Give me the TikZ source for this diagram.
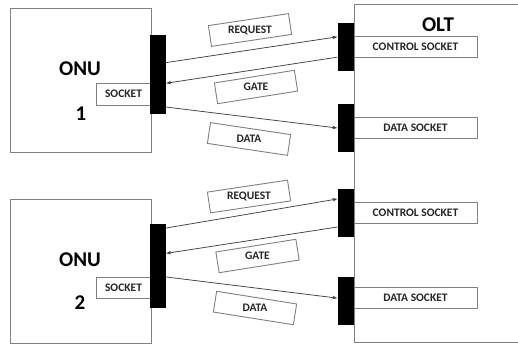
\documentclass[tikz,border=0pt]{standalone}
\usepackage{fontspec}
\setmainfont{Carlito}
\usetikzlibrary{arrows.meta,calc}

\tikzset{
  unit/.style={draw=black!50, line width=0.9pt, fill=white, inner sep=0pt},
  portbar/.style={fill=black, minimum width=16pt, inner sep=0pt},
  sockbox/.style={draw=black!50, line width=0.9pt, fill=white, inner sep=0pt, minimum height=21pt, font=\bfseries\fontsize{11.5}{13}\selectfont, text=black!85},
  msgbox/.style={draw=black!50, line width=0.9pt, fill=white, minimum width=81pt, minimum height=21pt, inner sep=0pt},
  msgtxt/.style={inner sep=0pt, font=\bfseries\fontsize{11.5}{13}\selectfont, text=black!85},
  msg/.style={draw=black!75, line width=0.75pt, -{Stealth[length=5pt,width=3.5pt]}},
  bigtxt/.style={font=\bfseries\fontsize{21}{24}\selectfont, inner sep=0pt}
}

\begin{document}
\begin{tikzpicture}[x=1pt,y=1pt,yscale=-1]
\useasboundingbox (0,0) rectangle (518,345);
\clip (0,0) rectangle (518,345);

% OLT side
\node[unit, minimum width=200pt, minimum height=338pt, anchor=north west] (olt) at (353.5,4) {};
\node[bigtxt] (oltname) at (438,25) {OLT};
\node[sockbox, minimum width=123pt] (ctrlA) at (415.5,46.5) {CONTROL SOCKET};
\node[sockbox, minimum width=123pt] (dataA) at (415.5,127.5) {DATA SOCKET};
\node[sockbox, minimum width=123pt] (ctrlB) at (415.5,212.5) {CONTROL SOCKET};
\node[sockbox, minimum width=123pt] (dataB) at (415.5,298) {DATA SOCKET};
\node[portbar, minimum height=48pt] (ctrlbarA) at (345.5,47) {};
\node[portbar, minimum height=48pt] (databarA) at (345.5,128) {};
\node[portbar, minimum height=48pt] (ctrlbarB) at (345.5,213) {};
\node[portbar, minimum height=48pt] (databarB) at (345.5,301) {};

% ONU 1
\node[unit, minimum width=141pt, minimum height=144pt] (onuA) at (80.5,80) {};
\node[bigtxt] (onuAname) at (80,69) {ONU};
\node[bigtxt] (onuAnum) at (81,114) {1};
\node[sockbox, minimum width=55pt, minimum height=22pt] (sockA) at (123.5,94) {SOCKET};
\node[portbar, minimum height=79pt] (onubarA) at (158,74.5) {};

% ONU 2
\node[unit, minimum width=141pt, minimum height=144pt] (onuB) at (80.5,271) {};
\node[bigtxt] (onuBname) at (80,259.5) {ONU};
\node[bigtxt] (onuBnum) at (80,302.5) {2};
\node[sockbox, minimum width=55pt] (sockB) at (123.5,287.5) {SOCKET};
\node[portbar, minimum height=84pt] (onubarB) at (158,266) {};

% messages ONU 1 <-> OLT (tilted frames, level text)
\draw[msg] ($(onubarA.north east)!.35!(onubarA.south east)$) -- ($(ctrlbarA.north west)!.29!(ctrlbarA.south west)$);
\draw[msg] ($(ctrlbarA.north west)!.71!(ctrlbarA.south west)$) -- ($(onubarA.north east)!.61!(onubarA.south east)$);
\draw[msg] ($(onubarA.north east)!.91!(onubarA.south east)$) -- (databarA.west);
\node[msgbox, rotate=8.5] (reqA) at (250,30) {};
\node[msgtxt] at (reqA) {REQUEST};
\node[msgbox, rotate=9] (gateA) at (256,87) {};
\node[msgtxt] at (gateA) {GATE};
\node[msgbox, rotate=-8.5] (dtA) at (249,139) {};
\node[msgtxt] at (dtA) {DATA};

% messages ONU 2 <-> OLT
\draw[msg] ($(onubarB.north east)!.05!(onubarB.south east)$) -- ($(ctrlbarB.north west)!.21!(ctrlbarB.south west)$);
\draw[msg] ($(ctrlbarB.north west)!.79!(ctrlbarB.south west)$) -- ($(onubarB.north east)!.35!(onubarB.south east)$);
\draw[msg] ($(onubarB.north east)!.63!(onubarB.south east)$) -- ($(databarB.north west)!.44!(databarB.south west)$);
\node[msgbox, rotate=8.5] (reqB) at (249,196.5) {};
\node[msgtxt] at (reqB) {REQUEST};
\node[msgbox, rotate=9] (gateB) at (257.5,256) {};
\node[msgtxt] at (gateB) {GATE};
\node[msgbox, rotate=-9] (dtB) at (255,308) {};
\node[msgtxt] at (dtB) {DATA};
\end{tikzpicture}
\end{document}
